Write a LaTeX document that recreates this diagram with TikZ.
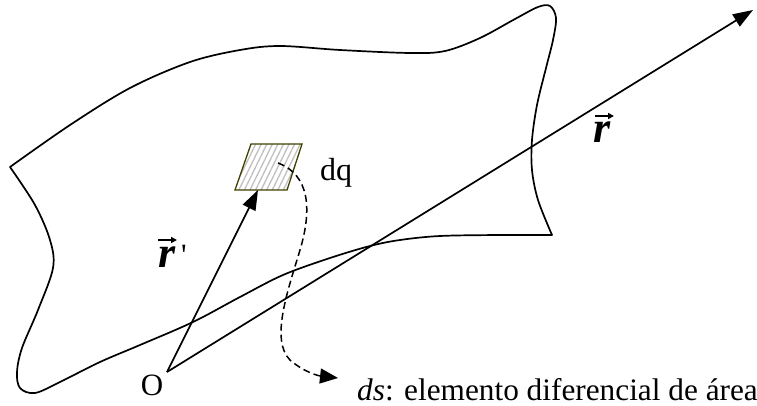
\documentclass[tikz,border=0pt]{standalone}
\usepackage{fontspec}
\setmainfont{Liberation Serif}
\usetikzlibrary{arrows.meta,patterns.meta}
\definecolor{olive}{RGB}{64,64,0}
\begin{document}
\begin{tikzpicture}[x=1pt,y=-1pt,
  outline/.style={line width=1.7pt, line join=round},
  vecline/.style={line width=1.7pt, -{Triangle[length=20pt,width=14pt]}},
  dashline/.style={line width=1.5pt, dash pattern=on 7pt off 4pt, -{Triangle[length=18pt,width=15pt]}},
  patch/.style={draw=olive, line width=1.3pt, pattern={Lines[angle=64,distance=5pt,line width=1.3pt]}, pattern color=gray!50},
  lbl/.style={font=\fontsize{31pt}{35pt}\selectfont, inner sep=0pt},
  veclbl/.style={font=\fontsize{44pt}{48pt}\selectfont\bfseries\itshape, inner sep=0pt},
  overarrow/.style={line width=1.7pt, -{Triangle[length=6pt,width=6pt]}}]
\useasboundingbox (0,0) rectangle (757,406);
% surface outline
\draw[outline] plot[smooth, tension=0.55] coordinates {(10,167) (70,125) (130,88) (190,62) (240,50) (280,46) (340,50) (410,53) (445,51) (480,38) (515,19) (538,7) (550,6) (556,18) (553,40) (546,68) (537,105) (532,140) (532,170) (538,200) (552,235)}
  -- plot[smooth, tension=0.55] coordinates {(552,235) (500,235) (440,236) (400,240) (370,246) (330,258) (283,275) (240,297) (193,322) (140,345) (100,362) (60,382) (35,393) (20,388) (17,372) (22,348) (38,310) (53,268) (50,240) (35,205) (10,167)} -- cycle;
% area element
\coordinate (p1) at (251,144);
\coordinate (p2) at (302,144);
\coordinate (p3) at (287,190);
\coordinate (p4) at (235,190);
\draw[patch] (p1) -- (p2) -- (p3) -- (p4) -- cycle;
\coordinate (dqbot) at (258,190);
% vectors
\coordinate (O) at (167,372);
\coordinate (rtip) at (753,10);
\draw[vecline] (O) -- (dqbot);
\draw[vecline] (O) -- (rtip);
% dashed pointer
\coordinate (dsstart) at (278,163);
\coordinate (dsend) at (338,378);
\draw[dashline] (dsstart) .. controls (310,175) and (312,210) .. (300,250) .. controls (288,290) and (270,340) .. (290,360) .. controls (305,373) and (320,376) .. (dsend);
% labels
\node[lbl, anchor=base] (Olbl) at (152,395) {O};
\node[lbl, font=\fontsize{32pt}{36pt}\selectfont, anchor=base west] (dqlbl) at (320,181) {dq};
\node[veclbl, anchor=base] (rlbl) at (602,143) {r};
\draw[overarrow] ([shift={(-7,-27)}]rlbl.base) -- ([shift={(12,-27)}]rlbl.base);
\node[veclbl, anchor=base] (rplbl) at (167,267) {r};
\draw[overarrow] ([shift={(-9,-27)}]rplbl.base) -- ([shift={(10,-27)}]rplbl.base);
\node[lbl, anchor=base] (primelbl) at (184,265) {\textquotesingle};
\node[lbl, font=\fontsize{31.3pt}{35pt}\selectfont, anchor=base west] (dslbl) at (357,400) {\textit{ds}: elemento diferencial de área};
\end{tikzpicture}
\end{document}
